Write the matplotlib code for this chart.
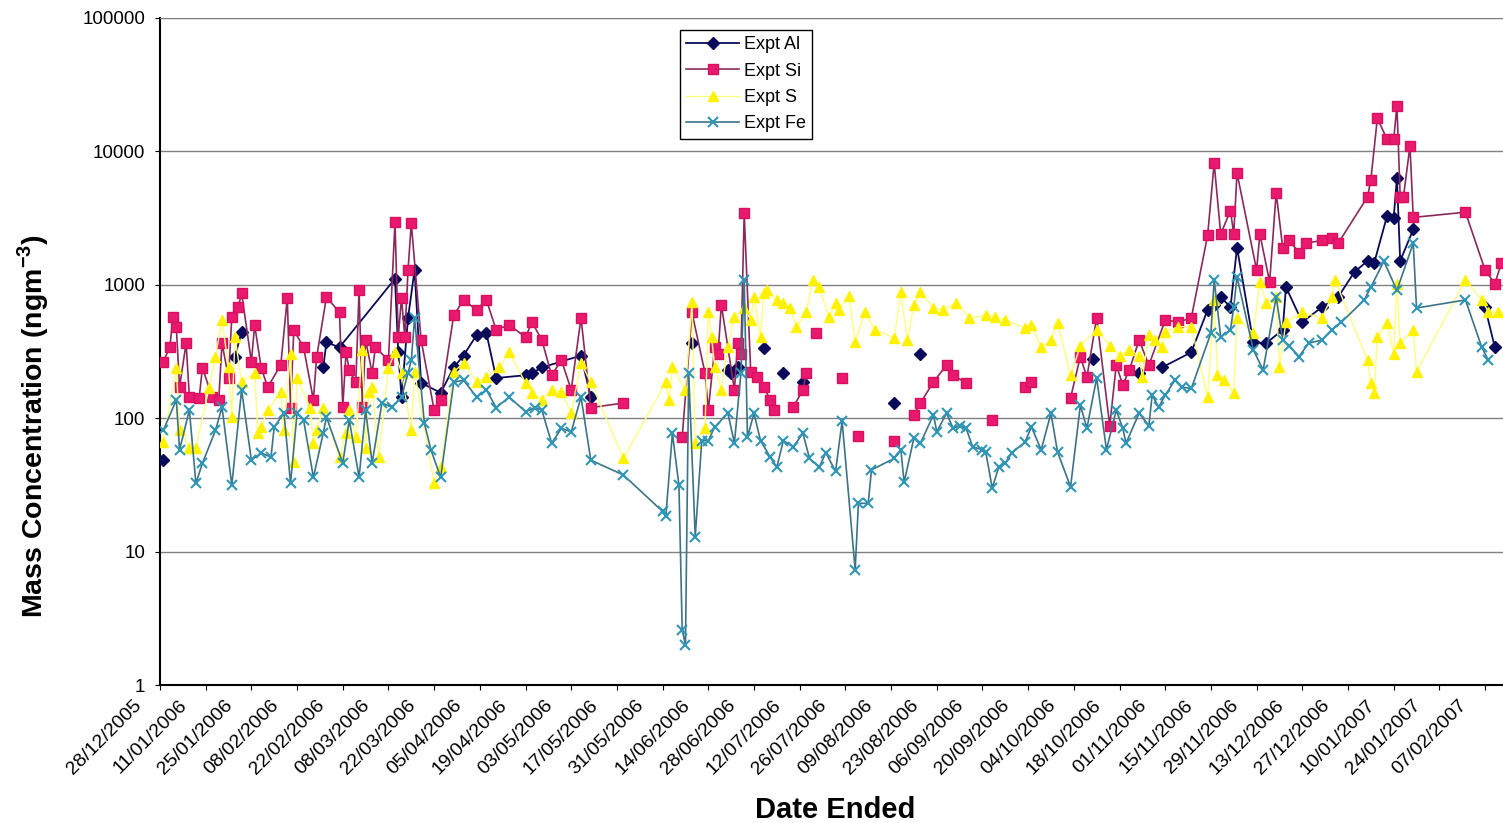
import numpy as np
import pandas as pd
import matplotlib
matplotlib.use("Agg")
import matplotlib.pyplot as plt
import matplotlib.transforms as mtransforms

plt.rcParams['font.family'] = ['Liberation Sans', 'DejaVu Sans']
plt.rcParams['mathtext.fontset'] = 'custom'
plt.rcParams['mathtext.rm'] = 'Liberation Sans'
plt.rcParams['mathtext.bf'] = 'Liberation Sans:bold'

START = pd.Timestamp('2005-12-28')
X_END_DAYS = 411.5

tick_labels = ['28/12/2005', '11/01/2006', '25/01/2006', '08/02/2006', '22/02/2006',
               '08/03/2006', '22/03/2006', '05/04/2006', '19/04/2006', '03/05/2006',
               '17/05/2006', '31/05/2006', '14/06/2006', '28/06/2006', '12/07/2006',
               '26/07/2006', '09/08/2006', '23/08/2006', '06/09/2006', '20/09/2006',
               '04/10/2006', '18/10/2006', '01/11/2006', '15/11/2006', '29/11/2006',
               '13/12/2006', '27/12/2006', '10/01/2007', '24/01/2007', '07/02/2007']
y_ticks = [1, 10, 100, 1000, 10000, 100000]
y_tick_labels = ['1', '10', '100', '1000', '10000', '100000']

# days since 28/12/2005 ; None = gap in the series
al_day = [1, 10, 23, 25, 35, 50, 51, 55, 72, 73, 74, 76, 78, 80, 86, 90, 93, 97, 100, 103,
          112, 114, 117, 129, 132, 140, 163, 166, 174, 175, 177, 180, 185, 188, 191, 194,
          197, 200, 225, 228, 233, 240, 286, 292, 300, 303, 307, 316, 321, 323, 325, 328,
          330, 335, 339, 344, 345, 350, 356, 361, 366, 370, 372, 376, 378, 379, 380, 384,
          395, 406, 409]
al_val = [49, None, 290, 445, None, 240, 370, 340, 1110, 312, 144, 565, 1290, 184, 155, 240,
          295, 420, 435, 200, 210, 218, 240, 295, 144, None, 366, None, 230, 218, 240, None,
          335, None, 218, None, 186, None, 130, None, 305, None, 280, None, 218, None, 240,
          312, 650, 700, 810, 680, 1900, 370, 366, 460, 960, 525, 680, 810, 1250, 1510,
          1450, 3300, 3170, 6300, 1510, 2600, None, 680, 340]

si_day = [1, 3, 4, 5, 6, 8, 9, 12, 13, 16, 18, 19, 21, 22, 24, 25, 28, 29, 31, 33, 37, 39,
          40, 41, 44, 47, 48, 51, 55, 56, 57, 58, 60, 61, 62, 63, 65, 66, 70, 72, 73, 74, 75,
          76, 77, 80, 84, 86, 90, 93, 97, 100, 103, 107, 112, 114, 117, 120, 123, 126, 129,
          132, 142, 150, 160, 163, 167, 168, 170, 171, 172, 176, 177, 178, 179, 181, 183,
          185, 187, 188, 190, 194, 197, 198, 199, 201, 205, 209, 211, 214, 220, 225, 228,
          231, 233, 237, 241, 243, 247, 250, 255, 260, 265, 267, 272, 279, 282, 284, 287,
          291, 293, 295, 297, 300, 303, 308, 312, 316, 321, 323, 325, 328, 329, 330, 336,
          337, 340, 342, 344, 346, 349, 351, 356, 359, 361, 370, 371, 373, 376, 378, 379,
          380, 381, 383, 384, 400, 406, 409, 411]
si_val = [265, 340, 575, 480, 171, 366, 144, 142, 239, 144, 137, 366, 200, 575, 680, 870,
          265, 500, 239, 171, 250, 795, 120, 458, 340, 137, 287, 810, 620, 121, 312, 230,
          186, 910, 121, 385, 218, 340, 272, 2950, 405, 800, 405, 1290, 2900, 385, 115, 137,
          590, 770, 650, 770, 460, 500, 405, 525, 385, 210, 272, 163, 565, 120, 130, None,
          72, 620, 218, 115, 340, 305, 710, 163, 366, 305, 3460, 222, 203, 171, 137, 115,
          None, 121, 163, 218, None, 435, None, 200, None, 74, None, 68, None, 106, 130, 187,
          250, 210, 184, None, 97, None, 171, 187, None, 142, 290, 203, 565, 88, 250, 178,
          230, 385, 250, 545, 525, 565, 2350, 8150, 2400, 3600, 2400, 6900, 1290, 2400, 1050,
          4900, 1900, 2150, 1740, 2050, 2150, 2250, 2050, 4560, 6100, 17700, 12300, 12300,
          22000, 4560, 4560, 11000, 3200, 3500, 1290, 1020, 1450]

s_day = [1, 5, 6, 9, 11, 15, 17, 19, 21, 22, 23, 25, 29, 30, 31, 33, 37, 38, 40, 41, 42, 46,
         47, 48, 50, 55, 57, 58, 60, 62, 63, 64, 65, 67, 70, 72, 74, 77, 78, 84, 86, 90, 93,
         97, 100, 104, 107, 112, 114, 117, 120, 123, 126, 129, 132, 142, 155, 156, 157, 161,
         163, 164, 167, 168, 169, 170, 172, 174, 176, 179, 181, 182, 184, 185, 186, 189, 191,
         193, 195, 198, 200, 202, 205, 207, 208, 211, 213, 216, 219, 225, 227, 229, 231, 233,
         237, 240, 244, 248, 253, 256, 259, 265, 267, 270, 273, 275, 279, 282, 287, 291, 294,
         297, 300, 301, 303, 305, 307, 308, 312, 316, 321, 323, 324, 326, 329, 330, 335, 337,
         339, 342, 343, 345, 350, 356, 359, 360, 370, 371, 372, 373, 376, 378, 379, 380, 384,
         385, 400, 405, 407, 410]
s_val = [66, 239, 81, 60, 60, 168, 290, 545, 240, 102, 405, 187, 218, 77, 86, 115, 157, 81,
         305, 47, 200, 120, 65, 81, 120, 51, 78, 115, 72, 325, 60, 157, 171, 51, 239, 312, 218,
         81, 222, 32.5, 43, 222, 260, 187, 203, 240, 312, 184, 155, 137, 163, 157, 109, 260,
         186, 50, 186, 137, 240, 163, 740, 65, 84, 630, 405, 240, 163, 340, 575, 670, 545, 810,
         405, 870, 910, 770, 735, 670, 485, 620, 1090, 960, 575, 735, 650, 830, 375, 620, 460,
         400, 880, 385, 710, 880, 670, 650, 735, 565, 590, 575, 545, 475, 500, 340, 385, 515,
         210, 350, 460, 350, 295, 325, 295, 203, 420, 385, 340, 445, 485, 485, 144, 770, 210,
         193, 155, 565, 435, 1050, 735, 810, 240, 525, 620, 565, 810, 1090, 272, 184, 155, 405,
         515, 305, 1020, 366, 460, 222, 1090, 770, 630, 620]

fe_day = [1, 5, 6, 9, 11, 13, 17, 19, 22, 25, 28, 31, 34, 35, 38, 40, 42, 44, 47, 50, 51, 56,
          58, 61, 63, 65, 68, 71, 74, 76, 77, 78, 81, 83, 86, 90, 93, 97, 100, 103, 107, 112,
          115, 117, 120, 123, 126, 129, 132, 142, 154, 155, 157, 159, 160, 161, 162, 164, 166,
          168, 170, 174, 176, 178, 179, 180, 182, 184, 187, 189, 191, 194, 197, 199, 202, 204,
          207, 209, 213, 214, 217, 218, 225, 227, 228, 231, 233, 237, 238, 241, 243, 245, 247,
          249, 252, 253, 255, 257, 259, 261, 265, 267, 270, 273, 275, 279, 282, 284, 287, 290,
          293, 295, 296, 300, 303, 304, 306, 308, 311, 313, 316, 322, 323, 325, 328, 329, 330,
          335, 338, 342, 344, 346, 349, 352, 356, 359, 362, 369, 371, 375, 379, 384, 385, 400,
          405, 407]
fe_val = [81, 137, 58, 115, 32.5, 46, 81, 121, 31.5, 163, 48.5, 55, 51, 86, 109, 32.5, 109,
          97, 36, 77, 102, 46, 97, 36, 115, 46, 130, 121, 144, 218, 272, 565, 92, 58, 36, 186,
          193, 144, 163, 120, 144, 112, 120, 115, 65, 84, 79, 144, 48.5, 37.5, 20, 18.5, 77,
          31.5, 2.6, 2.0, 218, 12.9, 68, 68, 86, 109, 65, 218, 1090, 72, 109, 68, 51, 43, 68,
          61, 77, 50, 43, 55, 40, 95, 7.3, 23, 23, 41, 50, 58, 33, 71, 65, 106, 79, 109, 84,
          88, 84, 61, 58, 56, 30, 43, 46, 55, 66, 86, 58, 109, 56, 30.5, 125, 84, 200, 58, 115,
          84, 65, 109, 88, 149, 121, 149, 193, 171, 167, 435, 1090, 405, 460, 680, 1150, 325,
          230, 810, 385, 350, 290, 366, 385, 460, 525, 770, 960, 1500, 910, 2050, 670, 770,
          340, 272]


def to_dates(days):
    return START + pd.to_timedelta(np.asarray(days, dtype=float), unit='D')


fig = plt.figure(figsize=(15.03, 8.23), dpi=100)
ax = fig.add_axes([160 / 1503, 138 / 823, 1343 / 1503, 667 / 823])

ax.plot(to_dates(al_day), np.array(al_val, dtype=float), color='#0a0a5a', lw=1.3,
        marker='D', ms=6, mfc='#0a0a5a', mec='#0a0a5a', label='Expt Al', zorder=3)
ax.plot(to_dates(si_day), np.array(si_val, dtype=float), color='#8a2a5c', lw=1.2,
        marker='s', ms=7.5, mfc='#e8196e', mec='#d8105e', label='Expt Si', zorder=4)
ax.plot(to_dates(s_day), np.array(s_val, dtype=float), color='#ffff80', lw=1.0,
        marker='^', ms=7.5, mfc='#fff200', mec='#fff200', label='Expt S', zorder=5)
ax.plot(to_dates(fe_day), np.array(fe_val, dtype=float), color='#3c7386', lw=1.2,
        marker='x', ms=7, mew=1.5, mec='#3096b8', label='Expt Fe', zorder=6)

ax.set_yscale('log')
ax.set_ylim(1, 100000)
ax.set_yticks(y_ticks)
ax.set_yticklabels(y_tick_labels)
ax.yaxis.set_minor_locator(matplotlib.ticker.NullLocator())
ax.grid(axis='y', color='#808080', lw=1.0)
ax.set_axisbelow(True)

tick_pos = START + pd.to_timedelta(np.arange(len(tick_labels)) * 14, unit='D')
ax.set_xlim(START, START + pd.Timedelta(days=X_END_DAYS))
ax.set_xticks(tick_pos)
ax.set_xticklabels([''] * len(tick_labels))
label_trans = ax.get_xaxis_transform() + mtransforms.ScaledTranslation(
    -27 / 100, -12 / 100, fig.dpi_scale_trans)
for pos, txt in zip(tick_pos, tick_labels):
    ax.text(pos, 0, txt, transform=label_trans, rotation=45, ha='right', va='top',
            rotation_mode='anchor', fontsize=14, clip_on=False)

ax.tick_params(axis='y', labelsize=13.5, length=3.5, pad=7)
ax.tick_params(axis='x', length=3.5, pad=4)

for sp in ['left', 'bottom']:
    ax.spines[sp].set_color('black')
    ax.spines[sp].set_linewidth(1.5)
ax.spines['right'].set_visible(False)
ax.spines['top'].set_color('#808080')

ax.set_ylabel(r'Mass Concentration (ngm$^{\mathbf{-3}}$)', fontsize=20.5, fontweight='bold')
ax.yaxis.set_label_coords(-0.081, 0.388)
ax.set_xlabel('Date Ended', fontsize=21, fontweight='bold')
ax.xaxis.set_label_coords(0.5026, -0.166)

leg = ax.legend(loc='upper left', bbox_to_anchor=(0.3872, 0.982), fontsize=13,
                frameon=True, fancybox=False, edgecolor='black', framealpha=1,
                handlelength=2.9, labelspacing=0.52, borderpad=0.35, handletextpad=0.3,
                borderaxespad=0)
leg.get_frame().set_linewidth(1.0)

fig.savefig('out.png', dpi=100)
